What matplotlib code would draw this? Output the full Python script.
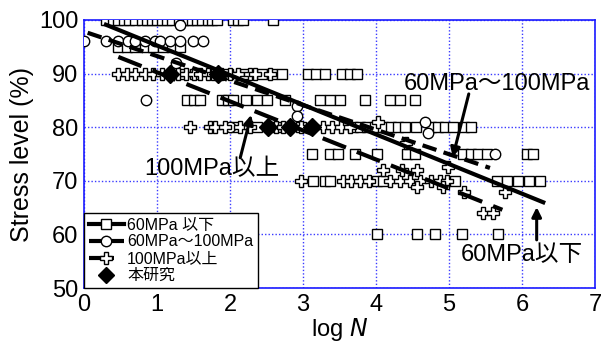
import matplotlib
matplotlib.use("Agg")
import matplotlib.pyplot as plt
from matplotlib.lines import Line2D

plt.rcParams['font.family'] = ['Liberation Sans', 'Noto Sans CJK JP', 'DejaVu Sans']

# 60MPa 以下 (squares)
sq_x = [0.30, 0.40, 0.47, 0.55, 0.62, 0.70, 0.79, 0.86, 0.93, 1.00, 1.07, 1.14, 1.21, 1.30, 1.36, 1.42,
        1.48, 1.55, 1.62, 1.70, 1.76, 1.82, 2.04, 2.11, 2.18, 2.59,
        0.47, 0.59, 0.70, 0.84, 0.95, 1.08, 1.21, 1.32,
        1.36, 1.52, 1.77, 1.97, 2.21, 2.44, 2.58, 2.71, 3.07, 3.18, 3.30, 3.53, 3.64, 3.74,
        1.41, 1.50, 1.59, 1.89, 1.97, 2.04, 2.22, 2.37, 2.51, 2.75, 3.23, 3.37, 3.51, 3.85, 4.19, 4.33, 4.53,
        2.07, 2.37, 2.63, 2.97, 3.68, 3.78, 3.88, 3.98, 4.10, 4.20, 4.30, 4.40, 4.55, 4.75, 4.85, 4.95,
        5.05, 5.20, 5.30,
        3.12, 3.37, 3.48, 3.71, 4.01, 4.42, 4.53, 5.19, 5.30, 5.40, 5.52, 6.07, 6.15,
        3.14, 3.30, 3.37, 4.01, 4.10, 5.08, 5.66, 5.80, 5.95, 6.10, 6.25,
        4.01, 4.56, 4.81, 5.18, 5.67]
sq_y = [100] * 26 + [95] * 8 + [90] * 14 + [85] * 17 + [80] * 19 + [75] * 13 + [70] * 11 + [60] * 5

# 60MPa～100MPa (circles)
ci_x = [0.00, 0.30, 0.47, 0.60, 0.70, 0.84, 0.97, 1.04, 1.18, 1.32, 1.49, 1.63,
        1.32, 1.26, 0.85, 2.92, 2.92, 2.00, 4.67, 4.71, 5.63]
ci_y = [96] * 12 + [99, 92, 85, 84, 82, 80, 81, 79, 75]

# 100MPa以上 (crosses)
cr_x = [0.47, 0.59, 0.70, 0.84, 0.95, 1.07, 1.18, 1.29, 1.40, 1.50, 1.59, 1.70, 1.77, 1.88,
        2.00, 2.11, 2.27, 2.34, 2.55,
        1.45, 1.73, 1.80, 1.93, 2.14, 2.27, 2.63, 2.72, 2.97, 3.27, 3.40, 3.52, 3.64,
        2.97, 3.55, 3.66, 3.78, 3.90, 4.19, 4.33, 4.47, 4.60, 4.75, 4.88, 4.97,
        4.03, 4.41, 4.99, 4.10, 4.36, 4.56, 4.56, 4.92, 5.20, 5.77, 5.47, 5.60]
cr_y = [90] * 19 + [80] * 13 + [70] * 12 + [81, 77, 72.6, 72, 72, 72, 68.8, 68.8, 68, 68, 64, 64]

# 本研究 (diamonds)
dm_x = [1.18, 1.84, 2.52, 2.82, 3.12]
dm_y = [90, 90, 80, 80, 80]

# fitted S-N lines (start/end)
fit_lo_x, fit_lo_y = [0.30, 6.29], [99.1, 66.0]
fit_mid_x, fit_mid_y = [0.05, 5.56], [97.6, 72.4]
fit_hi_x, fit_hi_y = [0.47, 5.73], [93.1, 64.6]

labels = ['60MPa 以下', '60MPa～100MPa', '100MPa以上', '本研究']

fig = plt.figure(figsize=(6.06, 3.43), dpi=100)
ax = fig.add_axes([0.1386, 0.160, 0.8434, 0.782])

mk = dict(linestyle='none', markerfacecolor='white', markeredgecolor='black', markeredgewidth=1.0)
ax.plot(sq_x, sq_y, marker='s', markersize=7.2, **mk, zorder=3)
ax.plot(ci_x, ci_y, marker='o', markersize=7.5, **mk, zorder=3)
ax.plot(cr_x, cr_y, marker='P', markersize=8, **mk, zorder=3)

ax.plot(fit_lo_x, fit_lo_y, color='black', lw=3, zorder=4)
ax.plot(fit_mid_x, fit_mid_y, color='black', lw=3, dashes=(3.5, 1.8), zorder=4)
ax.plot(fit_hi_x, fit_hi_y, color='black', lw=3, dashes=(6, 2.8), zorder=4)

ax.plot(dm_x, dm_y, linestyle='none', marker='D', markersize=9, color='black', zorder=5)

ax.set_xlim(0, 7)
ax.set_ylim(50, 100)
ax.set_xticks(range(0, 8))
ax.set_yticks(range(50, 101, 10))
ax.tick_params(labelsize=17, length=0, pad=4)
ax.grid(True, color='#3a3aff', linestyle=(0, (1, 1.5)), linewidth=1.0)
for s in ax.spines.values():
    s.set_color('#1a1aff')
    s.set_linewidth(1.2)

ax.set_ylabel('Stress level (%)', fontsize=18, labelpad=4)
ax.set_xlabel('log $\\mathit{N}$', fontsize=17, labelpad=0)

# callout labels with arrows
arrow = dict(arrowstyle='-|>', color='black', lw=2.2, mutation_scale=14, shrinkA=0, shrinkB=0)
ax.text(5.66, 88, '60MPa～100MPa', fontsize=17, ha='center', va='center', zorder=6)
ax.annotate('', xy=(5.05, 74.4), xytext=(5.27, 86.2), arrowprops=arrow, zorder=6)
ax.text(1.75, 72.2, '100MPa以上', fontsize=17, ha='center', va='center', zorder=6)
ax.annotate('', xy=(2.29, 82.3), xytext=(2.14, 74.3), arrowprops=arrow, zorder=6)
ax.text(6.0, 56.2, '60MPa以下', fontsize=17, ha='center', va='center', zorder=6)
ax.annotate('', xy=(6.2, 65.1), xytext=(6.2, 59.0), arrowprops=arrow, zorder=6)

handles = [
    Line2D([], [], color='black', lw=3, marker='s', markersize=7.2, markerfacecolor='white',
           markeredgecolor='black'),
    Line2D([], [], color='black', lw=3, dashes=(3.5, 1.8), marker='o', markersize=7.5,
           markerfacecolor='white', markeredgecolor='black'),
    Line2D([], [], color='black', lw=3, dashes=(6, 2.8), marker='P', markersize=8,
           markerfacecolor='white', markeredgecolor='black'),
    Line2D([], [], linestyle='none', marker='D', markersize=8, color='black'),
]
leg = ax.legend(handles, labels, loc='lower left', bbox_to_anchor=(0, 0), borderaxespad=0,
                fontsize=11.5, handlelength=2.2, handletextpad=0.2, labelspacing=0.12,
                borderpad=0.3, fancybox=False, framealpha=1, edgecolor='black')
leg.get_frame().set_linewidth(1.0)
leg.set_zorder(7)

fig.savefig('out.png', dpi=100)
